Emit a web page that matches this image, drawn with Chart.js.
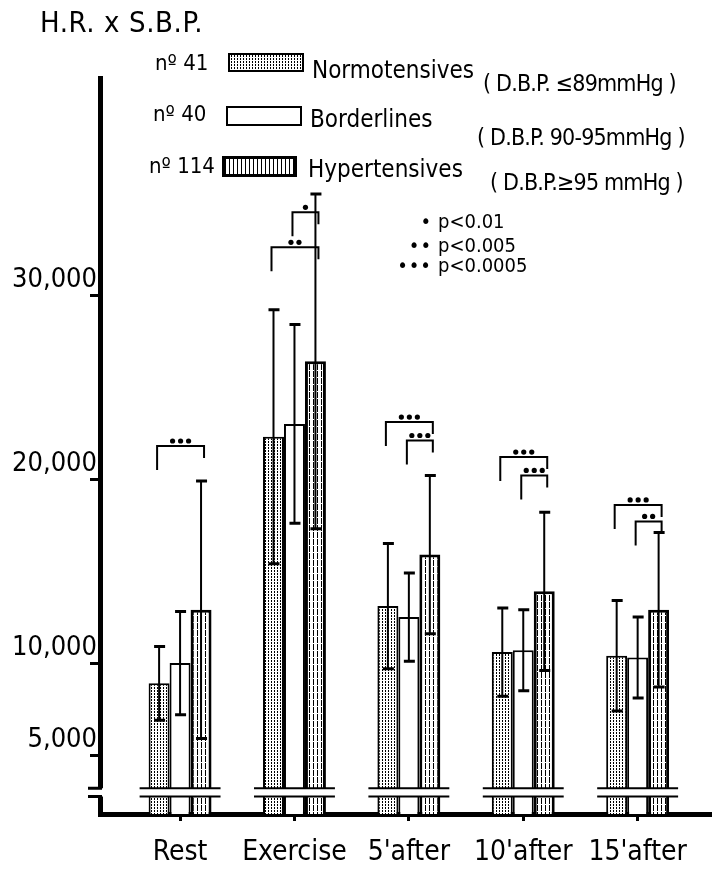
<!DOCTYPE html>
<html>
<head>
<meta charset="utf-8">
<script src="https://cdn.jsdelivr.net/npm/chart.js@4.4.1/dist/chart.umd.min.js"></script>
<style>
  body { margin: 0; background: #fff; }
  #wrap { position: relative; width: 712px; height: 884px; color: #000;
          font-family: 'DejaVu Sans Condensed', 'Liberation Sans Narrow', 'DejaVu Sans', sans-serif; }
  #wrap canvas { position: absolute; left: 0; top: 0; }
  .t { position: absolute; white-space: pre; line-height: 1; }
  .n { font-size: 22px; }
  .lab { font-size: 24px; }
  .par { font-size: 23px; letter-spacing: -0.8px; }
  .p { font-size: 20px; }
  .p .dots { display: inline-block; width: 44px; text-align: right; padding-right: 6px; letter-spacing: 1px; }
  .sw { position: absolute; box-sizing: border-box; border: 2px solid #000; background: #fff; }
  .sw-normo { background-image:
      repeating-linear-gradient(0deg, #fff 0 1px, transparent 1px 3px),
      repeating-linear-gradient(90deg, transparent 0 1px, #000 1px 2px, transparent 2px 3px); }
  .sw-hyper { border-width: 3px; background-image:
      repeating-linear-gradient(90deg, #000 0 1px, transparent 1px 4px); }
</style>
</head>
<body>
<div id="wrap">
  <canvas id="hrsbp" width="712" height="884"></canvas>

  <div class="t" style="left:40px; top:8px; font-size:29px; letter-spacing:0.6px">H.R. x S.B.P.</div>

  <div class="t n" style="left:155px; top:52px">nº 41</div>
  <div class="sw sw-normo" style="left:228px; top:53px; width:76px; height:19px"></div>
  <div class="t lab" style="left:312px; top:58px">Normotensives</div>
  <div class="t par" style="left:483px; top:72px">( D.B.P. ≤89mmHg )</div>

  <div class="t n" style="left:153px; top:103px">nº 40</div>
  <div class="sw" style="left:226px; top:106px; width:76px; height:20px"></div>
  <div class="t lab" style="left:310px; top:107px">Borderlines</div>
  <div class="t par" style="left:477px; top:126px">( D.B.P. 90-95mmHg )</div>

  <div class="t n" style="left:149px; top:155px">nº 114</div>
  <div class="sw sw-hyper" style="left:222px; top:156px; width:75px; height:21px"></div>
  <div class="t lab" style="left:308px; top:157px">Hypertensives</div>
  <div class="t par" style="left:490px; top:171px">( D.B.P.≥95 mmHg )</div>

  <div class="t p" style="left:388px; top:211px"><span class="dots">•</span>p&lt;0.01</div>
  <div class="t p" style="left:388px; top:235px"><span class="dots">••</span>p&lt;0.005</div>
  <div class="t p" style="left:388px; top:255px"><span class="dots">•••</span>p&lt;0.0005</div>
</div>

<script>
// H.R. x S.B.P. (heart rate x systolic pressure), mean and SD per group
const categories = ['Rest', 'Exercise', "5'after", "10'after", "15'after"];

const normoMean  = [8900, 22300, 13100, 10600, 10400];
const normoSD    = [2000, 6900, 3400, 2400, 3000];
const borderMean = [10000, 23000, 12500, 10700, 10300];
const borderSD   = [2800, 5400, 2400, 2200, 2200];
const hyperMean  = [12900, 26400, 15900, 13900, 12900];
const hyperSD    = [7000, 9100, 4300, 4300, 4200];

const yTicks = [5000, 10000, 20000, 30000];

// significance brackets: category, from group, to group, bracket level, number of dots
const sigCategory = [0, 1, 1, 2, 2, 3, 3, 4, 4];
const sigFrom     = [0, 0, 1, 0, 1, 0, 1, 0, 1];
const sigTo       = [2, 2, 2, 2, 2, 2, 2, 2, 2];
const sigLevel    = [21800, 32600, 34500, 23100, 22100, 21200, 20200, 18600, 17700];
const sigStars    = [3, 2, 1, 3, 3, 3, 3, 3, 2];

// the value axis is broken between these two values
const breakLow = 2750;
const breakHigh = 3200;

const FONT = "'DejaVu Sans Condensed', 'Liberation Sans Narrow', 'DejaVu Sans', sans-serif";

function makePattern(w, h, paint) {
  const c = document.createElement('canvas');
  c.width = w;
  c.height = h;
  const g = c.getContext('2d');
  g.fillStyle = '#fff';
  g.fillRect(0, 0, w, h);
  g.fillStyle = '#000';
  paint(g);
  return g.createPattern(c, 'repeat');
}

// stippled fill and vertical hatching
const normoFill = makePattern(3, 3, g => g.fillRect(1, 0, 1, 2));
const hyperFill = makePattern(4, 7, g => g.fillRect(1, 0, 1, 6));

const groups = [
  { label: 'Normotensives', mean: normoMean, sd: normoSD, fill: normoFill, width: 2 },
  { label: 'Borderlines', mean: borderMean, sd: borderSD, fill: '#fff', width: 2 },
  { label: 'Hypertensives', mean: hyperMean, sd: hyperSD, fill: hyperFill, width: 3 },
];

const datasets = groups.map(g => ({
  label: g.label,
  data: g.mean.map((v, i) => ({ x: i, y: v })),
  sd: g.sd,
  backgroundColor: g.fill,
  borderColor: '#000',
  borderWidth: g.width,
  borderSkipped: 'bottom',
  categoryPercentage: 0.55,
  barPercentage: 1.0,
}));

// white gap across the bars and the axis, with the short cut marks
const axisBreak = {
  id: 'axisBreak',
  afterDatasetsDraw(chart) {
    const { ctx, chartArea, scales } = chart;
    const yHi = scales.y.getPixelForValue(breakHigh);
    const yLo = scales.y.getPixelForValue(breakLow);
    ctx.save();
    ctx.fillStyle = '#fff';
    ctx.fillRect(chartArea.left - 6, yHi, chartArea.right - chartArea.left + 6, yLo - yHi);
    ctx.strokeStyle = '#000';
    ctx.lineWidth = 3;
    ctx.beginPath();
    ctx.moveTo(chartArea.left - 12, yHi);
    ctx.lineTo(chartArea.left + 2, yHi);
    ctx.moveTo(chartArea.left - 12, yLo);
    ctx.lineTo(chartArea.left + 2, yLo);
    ctx.stroke();
    ctx.lineWidth = 2;
    const first = chart.getDatasetMeta(0).data;
    const last = chart.getDatasetMeta(datasets.length - 1).data;
    categories.forEach((c, i) => {
      const x0 = first[i].x - first[i].width / 2 - 9;
      const x1 = last[i].x + last[i].width / 2 + 9;
      ctx.beginPath();
      ctx.moveTo(x0, yHi);
      ctx.lineTo(x1, yHi);
      ctx.moveTo(x0, yLo);
      ctx.lineTo(x1, yLo);
      ctx.stroke();
    });
    ctx.restore();
  },
};

// mean +/- SD with short thick caps
const errorBars = {
  id: 'errorBars',
  afterDatasetsDraw(chart) {
    const { ctx, scales } = chart;
    ctx.save();
    ctx.strokeStyle = '#000';
    chart.data.datasets.forEach((ds, d) => {
      chart.getDatasetMeta(d).data.forEach((bar, i) => {
        const m = ds.data[i].y;
        const top = scales.y.getPixelForValue(m + ds.sd[i]);
        const bot = scales.y.getPixelForValue(m - ds.sd[i]);
        ctx.lineWidth = 2;
        ctx.beginPath();
        ctx.moveTo(bar.x, top);
        ctx.lineTo(bar.x, bot);
        ctx.stroke();
        ctx.lineWidth = 3;
        ctx.beginPath();
        ctx.moveTo(bar.x - 5, top);
        ctx.lineTo(bar.x + 6, top);
        ctx.moveTo(bar.x - 5, bot);
        ctx.lineTo(bar.x + 6, bot);
        ctx.stroke();
      });
    });
    ctx.restore();
  },
};

const sigBrackets = {
  id: 'sigBrackets',
  afterDatasetsDraw(chart) {
    const { ctx, scales } = chart;
    ctx.save();
    ctx.strokeStyle = '#000';
    ctx.fillStyle = '#000';
    ctx.lineWidth = 2;
    sigCategory.forEach((c, k) => {
      const xa = chart.getDatasetMeta(sigFrom[k]).data[c].x - 2;
      const xb = chart.getDatasetMeta(sigTo[k]).data[c].x + 3;
      const y = scales.y.getPixelForValue(sigLevel[k]);
      ctx.beginPath();
      ctx.moveTo(xa, y + 24);
      ctx.lineTo(xa, y);
      ctx.lineTo(xb, y);
      ctx.lineTo(xb, y + 12);
      ctx.stroke();
      const mid = (xa + xb) / 2;
      for (let s = 0; s < sigStars[k]; s++) {
        const dx = (s - (sigStars[k] - 1) / 2) * 8;
        ctx.beginPath();
        ctx.arc(mid + dx, y - 5, 2.6, 0, Math.PI * 2);
        ctx.fill();
      }
    });
    ctx.restore();
  },
};

const config = {
  type: 'bar',
  data: { datasets: datasets },
  options: {
    responsive: false,
    animation: false,
    devicePixelRatio: 1,
    layout: { padding: { top: 78, left: 0, right: 0, bottom: 0 } },
    plugins: {
      legend: { display: false },
      tooltip: { enabled: false },
    },
    scales: {
      x: {
        type: 'linear',
        offset: false,
        min: -0.7,
        max: 4.65,
        afterBuildTicks: s => { s.ticks = categories.map((c, i) => ({ value: i })); },
        afterFit: s => { s.height = 70; },
        border: { color: '#000', width: 5 },
        grid: { offset: false, drawOnChartArea: false, color: '#000', lineWidth: 3, tickLength: 7 },
        ticks: {
          color: '#000',
          padding: 15,
          autoSkip: false,
          maxRotation: 0,
          font: { family: FONT, size: 28 },
          callback: v => categories[v],
        },
      },
      y: {
        min: 1800,
        max: 41800,
        afterBuildTicks: s => { s.ticks = yTicks.map(v => ({ value: v })); },
        afterFit: s => { s.width = 100; },
        border: { color: '#000', width: 5 },
        grid: { drawOnChartArea: false, color: '#000', lineWidth: 3, tickLength: 10 },
        ticks: {
          color: '#000',
          padding: -7,
          labelOffset: -15,
          font: { family: FONT, size: 27 },
          callback: v => v.toLocaleString('en-US'),
        },
      },
    },
  },
  plugins: [axisBreak, errorBars, sigBrackets],
};

const ctx = document.getElementById('hrsbp').getContext('2d');
const hrChart = new Chart(ctx, config);
</script>
</body>
</html>
